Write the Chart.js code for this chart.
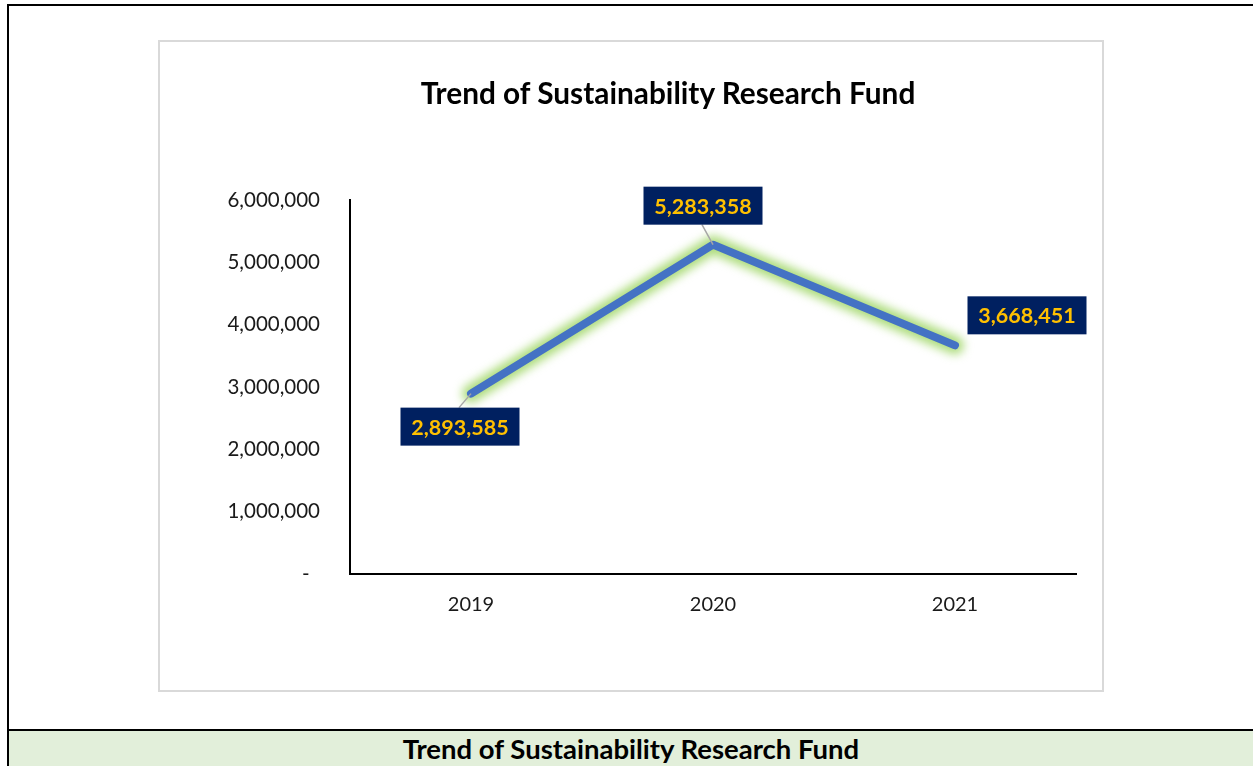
<!DOCTYPE html>
<html>
<head>
<meta charset="utf-8">
<script src="https://cdn.jsdelivr.net/npm/chart.js@4.4.1/dist/chart.umd.min.js"></script>
<style>
  html, body { margin: 0; padding: 0; background: #fff; }
  body { width: 1253px; height: 766px; position: relative; overflow: hidden; font-family: Lato, sans-serif; }
  #frame { position: absolute; left: 7px; top: 4px; right: 0; bottom: 0; border-top: 2px solid #000; border-left: 2px solid #000; }
  #box { position: absolute; left: 158px; top: 40px; width: 942px; height: 648px; border: 2px solid #d9d9d9; }
  #title { position: absolute; left: 368px; width: 600px; top: 75px; height: 36px; line-height: 36px; text-align: center;
           font-weight: bold; font-size: 29.8px; color: #000; }
  #band { position: absolute; left: 9px; top: 729px; right: 0; bottom: 0; border-top: 2px solid #000; background: #e2efda;
          text-align: center; font-weight: bold; font-size: 27.5px; line-height: 36px; color: #000; }
</style>
</head>
<body>
<div id="frame"></div>
<div id="box"><canvas id="fundChart" width="942" height="648"></canvas></div>
<div id="title">Trend of Sustainability Research Fund</div>
<div id="band">Trend of Sustainability Research Fund</div>
<script>
// Chart data
const years = ['2019', '2020', '2021'];
const fundValues = [2893585, 5283358, 3668451];
const yMin = 0;
const yMax = 6000000;
const yStep = 1000000;

// where each value label sits, relative to its point (px)
const labelOffsets = [[-11, 33], [-10, -39], [72, -30]];
const labelLeaders = [true, true, false];

// soft green glow behind the line
const glowPlugin = {
    id: 'glow',
    beforeDatasetDraw(chart) {
        const ctx = chart.ctx;
        const pts = chart.getDatasetMeta(0).data;
        ctx.save();
        ctx.filter = 'blur(5px)';
        ctx.strokeStyle = 'rgba(146, 208, 80, 0.75)';
        ctx.lineWidth = 18;
        ctx.lineCap = 'round';
        ctx.lineJoin = 'round';
        ctx.beginPath();
        pts.forEach((p, i) => i ? ctx.lineTo(p.x, p.y) : ctx.moveTo(p.x, p.y));
        ctx.stroke();
        ctx.restore();
    }
};

// navy boxes with gold numbers
const valueLabels = {
    id: 'valueLabels',
    afterDatasetsDraw(chart) {
        const ctx = chart.ctx;
        const meta = chart.getDatasetMeta(0);
        const w = 119, h = 38;
        ctx.save();
        meta.data.forEach((pt, i) => {
            const cx = pt.x + labelOffsets[i][0];
            const cy = pt.y + labelOffsets[i][1];
            if (labelLeaders[i]) {
                ctx.strokeStyle = '#a6a6a6';
                ctx.lineWidth = 1.5;
                ctx.beginPath();
                ctx.moveTo(pt.x, pt.y);
                ctx.lineTo(cx - 1, labelOffsets[i][1] > 0 ? cy - h / 2 : cy + h / 2);
                ctx.stroke();
            }
            ctx.fillStyle = '#002060';
            ctx.fillRect(cx - w / 2, cy - h / 2, w, h);
            ctx.fillStyle = '#ffc000';
            ctx.font = 'bold 21.5px Lato';
            ctx.textAlign = 'center';
            ctx.textBaseline = 'middle';
            ctx.fillText(fundValues[i].toLocaleString('en-US'), cx, cy + 1);
        });
        ctx.restore();
    }
};

const ctx = document.getElementById('fundChart').getContext('2d');

const fundChart = new Chart(ctx, {
    type: 'line',
    data: {
        labels: years,
        datasets: [{
            label: 'Sustainability Research Fund',
            data: fundValues,
            borderColor: '#4472c4',
            borderWidth: 8,
            borderCapStyle: 'round',
            borderJoinStyle: 'round',
            pointRadius: 0,
            tension: 0,
            fill: false
        }]
    },
    options: {
        responsive: false,
        animation: false,
        layout: { padding: { left: 40, right: 26, top: 158, bottom: 0 } },
        plugins: {
            legend: { display: false },
            tooltip: { enabled: false },
            title: { display: false }
        },
        scales: {
            x: {
                offset: true,
                grid: { display: false, drawTicks: false },
                border: { display: true, color: '#000', width: 2 },
                ticks: { color: '#1a1a1a', padding: 19, font: { family: 'Lato', size: 20 } },
                afterFit(scale) { scale.height = 116; }
            },
            y: {
                min: yMin,
                max: yMax,
                grid: { display: false, drawTicks: false },
                border: { display: true, color: '#000', width: 2 },
                ticks: {
                    stepSize: yStep,
                    color: '#1a1a1a',
                    padding: 30,
                    font: { family: 'Lato', size: 20.5 },
                    callback: v => v === 0 ? '-  ' : v.toLocaleString('en-US')
                },
                afterFit(scale) { scale.width = 150; }
            }
        }
    },
    plugins: [glowPlugin, valueLabels]
});
</script>
</body>
</html>
